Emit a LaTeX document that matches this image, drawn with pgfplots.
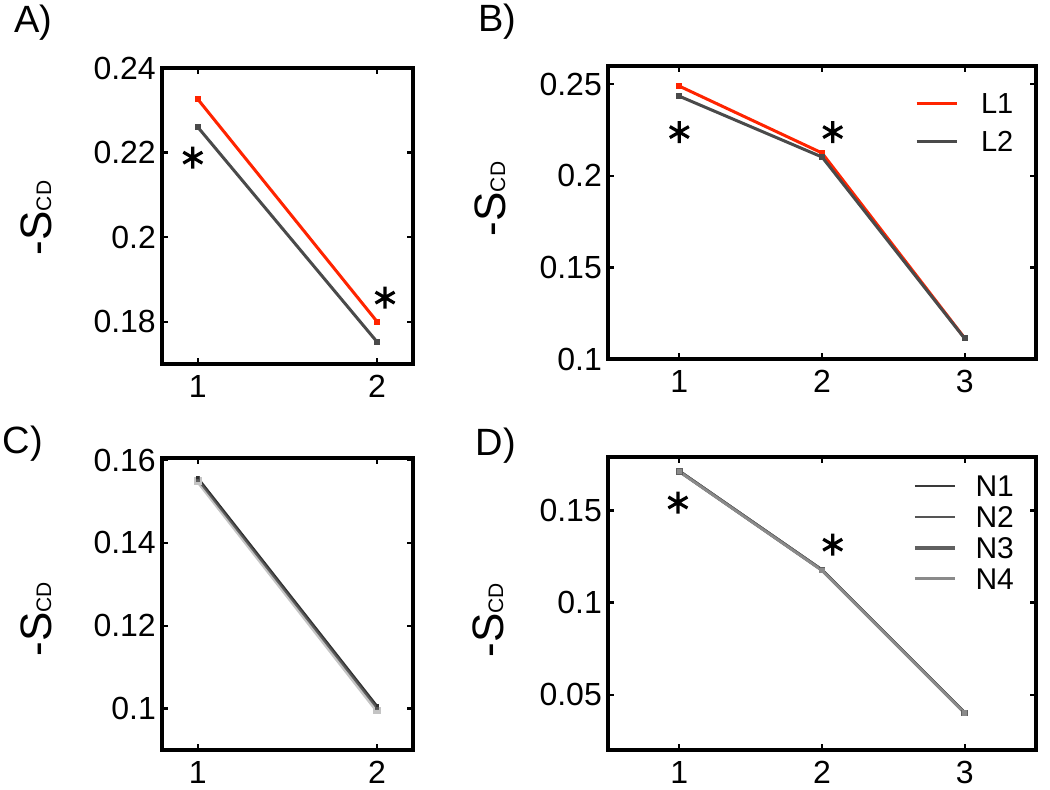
\documentclass[border=0pt]{standalone}
\usepackage{fontspec}
\setmainfont{Liberation Sans}
\usepackage{pgfplots}
\pgfplotsset{compat=1.18}
\definecolor{lred}{HTML}{FF2400}
\definecolor{lgray}{HTML}{4A4A4A}
\definecolor{nA}{HTML}{3A3A3A}
\definecolor{nB}{HTML}{555555}
\definecolor{nC}{HTML}{606060}
\definecolor{nD}{HTML}{8A8A8A}
\definecolor{cA}{HTML}{303030}
\definecolor{cD}{HTML}{C4C4C4}

\newcommand{\fs}[1]{\fontsize{#1}{#1}\selectfont}
\newcommand{\scd}{{\fs{44}-S}{\fs{21}CD}}

\pgfplotsset{
  panel/.style={
    scale only axis, anchor=south west,
    tick style={black, line width=2.2pt},
    major tick length=6pt,
    tick align=inside,
    xtick={1,2,3},
    ticklabel style={font=\fs{32}, inner sep=2pt},
    /pgf/number format/assume math mode=true,
    scaled y ticks=false,
    yticklabel style={/pgf/number format/fixed, /pgf/number format/precision=2, xshift=-4pt},
    xticklabel style={yshift=-9pt},
    clip=false,
  },
  dline/.style={line width=3pt, mark=square*, mark size=1.5pt},
  star/.style={only marks, mark=asterisk, mark size=11pt, line width=3.2pt, black, forget plot},
  leg/.style={
    legend style={draw=none, fill=none, inner sep=0pt,
      nodes={inner sep=2pt, text depth=0pt}},
    legend cell align=left,
    legend image code/.code={\draw[##1, mark=none] (0pt,0pt) -- (40pt,0pt);},
  },
}

\begin{document}
\begin{tikzpicture}
\path[use as bounding box] (0,0) rectangle (1050pt,790pt);

% A
\begin{axis}[panel, at={(162pt,426pt)}, width=251pt, height=296pt,
  xmin=0.8, xmax=2.2, ymin=0.17, ymax=0.24,
  xtick={1,2}, ytick={0.18,0.2,0.22,0.24}]
\addplot[dline, lred] coordinates {(1,0.2326) (2,0.1800)};
\addplot[dline, lgray] coordinates {(1,0.2260) (2,0.1752)};
\addplot[star] coordinates {(0.972,0.2188) (2.044,0.1857)};
\end{axis}

% B
\begin{axis}[panel, leg, at={(608pt,431pt)}, width=428pt, height=293pt,
  xmin=0.5, xmax=3.5, ymin=0.1, ymax=0.26,
  ytick={0.1,0.15,0.2,0.25},
  legend style={at={(0.717,0.912)}, anchor=north west, font=\fs{29},
    row sep=13.5pt, /tikz/every odd column/.append style={column sep=21pt}}]
\addplot[dline, lred] coordinates {(1,0.2490) (2,0.2125) (3,0.1114)};
\addplot[dline, lgray] coordinates {(1,0.2435) (2,0.2103) (3,0.1112)};
\addplot[star] coordinates {(1.0,0.2239) (2.075,0.2239)};
\legend{L1,L2}
\end{axis}

% C
\begin{axis}[panel, at={(162pt,40pt)}, width=251pt, height=292pt,
  xmin=0.8, xmax=2.2, ymin=0.09, ymax=0.1605,
  xtick={1,2}, ytick={0.1,0.12,0.14,0.16}]
\addplot[cD, line width=4pt, mark=square*, mark size=1.8pt] coordinates {(1,0.1549) (2,0.0995)};
\addplot[nC, line width=2.2pt, mark=square*, mark size=1.2pt] coordinates {(1,0.1553) (2,0.1001)};
\addplot[nB, line width=1.7pt, mark=square*, mark size=1pt] coordinates {(1,0.1556) (2,0.1004)};
\addplot[cA, line width=1.2pt, mark=square*, mark size=0.9pt] coordinates {(1,0.1559) (2,0.1008)};
\end{axis}

% D
\begin{axis}[panel, leg, at={(608pt,40pt)}, width=428pt, height=293pt,
  xmin=0.5, xmax=3.5, ymin=0.02, ymax=0.179,
  ytick={0.05,0.1,0.15},
  legend style={at={(0.713,0.943)}, anchor=north west, font=\fs{30},
    row sep=6pt, /tikz/every odd column/.append style={column sep=17pt}}]
\addplot[nA, line width=2pt, mark=square*, mark size=1.2pt] coordinates {(1,0.1716) (2,0.1180) (3,0.0405)};
\addplot[nB, line width=2.5pt, mark=square*, mark size=1.3pt] coordinates {(1,0.1714) (2,0.1178) (3,0.0404)};
\addplot[nC, line width=3.2pt, mark=square*, mark size=1.6pt] coordinates {(1,0.1712) (2,0.1176) (3,0.0402)};
\addplot[nD, line width=2.6pt, mark=square*, mark size=1.4pt] coordinates {(1,0.1710) (2,0.1174) (3,0.0400)};
\addplot[star] coordinates {(0.99,0.1543) (2.075,0.1314)};
\legend{N1,N2,N3,N4}
\end{axis}

% heavy axis frames, as in the original figure
\begin{scope}[line width=3.6pt, line join=miter]
\draw (162pt,426pt) rectangle ++(251pt,296pt);
\draw (608pt,431pt) rectangle ++(428pt,293pt);
\draw (162pt,40pt) rectangle ++(251pt,292pt);
\draw (608pt,40pt) rectangle ++(428pt,293pt);
\end{scope}

% panel letters and y labels
\node[font=\fs{38}] at (33pt,767pt) {A)};
\node[font=\fs{38}] at (497pt,768pt) {B)};
\node[font=\fs{38}] at (23pt,346pt) {C)};
\node[font=\fs{38}] at (496pt,344pt) {D)};
\node[rotate=90] at (36pt,572pt) {\scd};
\node[rotate=90] at (490pt,591pt) {\scd};
\node[rotate=90] at (36pt,171pt) {\scd};
\node[rotate=90] at (488pt,170pt) {\scd};
\end{tikzpicture}
\end{document}
